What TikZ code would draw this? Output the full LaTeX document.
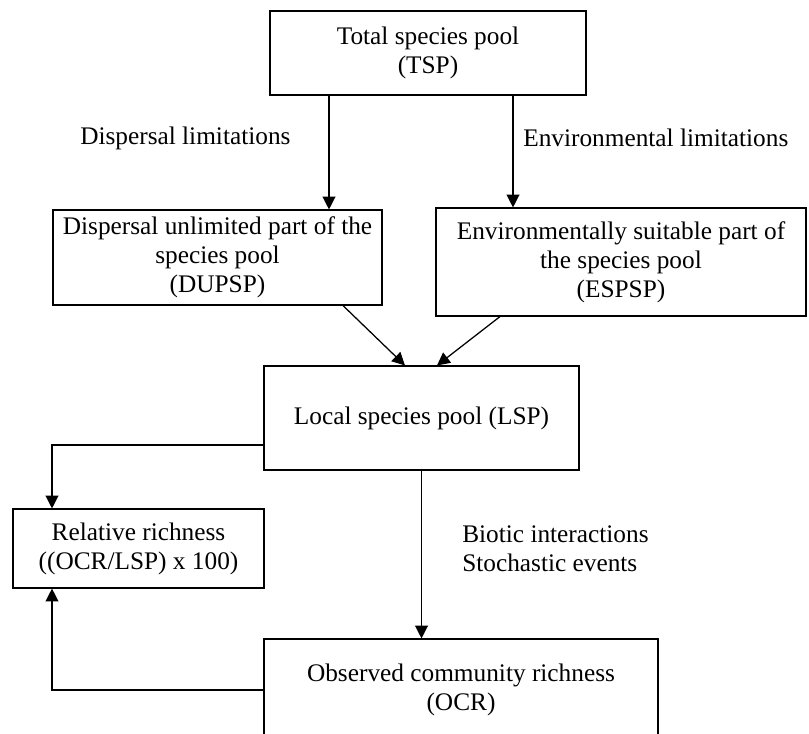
\documentclass[tikz,border=0pt]{standalone}
\usepackage{fontspec}
\setmainfont{Liberation Serif}
\usetikzlibrary{calc,positioning,arrows.meta}
\newcommand{\pxu}{0.025cm}

\begin{document}
\begin{tikzpicture}[x=0.025cm,y=-0.025cm,
    box/.style={draw,line width=0.8pt,align=center,inner sep=0pt,font=\fontsize{18}{20.5}\selectfont},
    txt/.style={align=left,inner sep=0pt,font=\fontsize{18}{20.5}\selectfont},
    arr/.style={line width=0.9pt,-{Triangle[length=0.32cm,width=0.32cm]}}]
\useasboundingbox (0,0) rectangle (809,733);
%物種庫
\node[box,minimum width=316*\pxu,minimum height=84*\pxu] (nTSP) at (428,53) {Total species pool\\(TSP)};
\node[box,minimum width=329*\pxu,minimum height=95*\pxu] (nDUP) at (217.5,257.5) {Dispersal unlimited part of the\\species pool\\(DUPSP)};
\node[box,minimum width=370*\pxu,minimum height=108*\pxu] (nESP) at (621,262) {Environmentally suitable part of\\the species pool\\(ESPSP)};
\node[box,minimum width=315*\pxu,minimum height=104*\pxu] (nLSP) at (421.5,418) {Local species pool (LSP)};
\node[box,minimum width=251*\pxu,minimum height=79*\pxu] (nRel) at (138.5,548.5) {Relative richness\\((OCR/LSP) x 100)};
\node[box,minimum width=394*\pxu,minimum height=102*\pxu] (nOCR) at (461,690) {Observed community richness\\(OCR)};

\node[txt,anchor=west] (nDispL) at (80,138) {Dispersal limitations};
\node[txt,anchor=west] (nEnvL) at (523,138) {Environmental limitations};
\node[txt,anchor=west] (nBio) at (462,549) {Biotic interactions\\Stochastic events};

\coordinate (cLPt) at (329,0);
\coordinate (cRPt) at (513,0);
\coordinate (cD1Pt) at (343,0);
\coordinate (cD2Pt) at (405,0);
\coordinate (cE1Pt) at (500,0);
\coordinate (cE2Pt) at (437,0);
\coordinate (cKPt) at (52,445);

\draw[arr] (nTSP.south -| cLPt) -- (nDUP.north -| cLPt);
\draw[arr] (nTSP.south -| cRPt) -- (nESP.north -| cRPt);
\draw[arr] (nDUP.south -| cD1Pt) -- (nLSP.north -| cD2Pt);
\draw[arr] (nESP.south -| cE1Pt) -- (nLSP.north -| cE2Pt);
\draw[arr] (nLSP.south) -- (nOCR.north -| nLSP.south);
\draw[arr] (nLSP.west |- cKPt) -| (nRel.north -| cKPt);
\draw[arr] (nOCR.west) -| (nRel.south -| cKPt);
\end{tikzpicture}
\end{document}
